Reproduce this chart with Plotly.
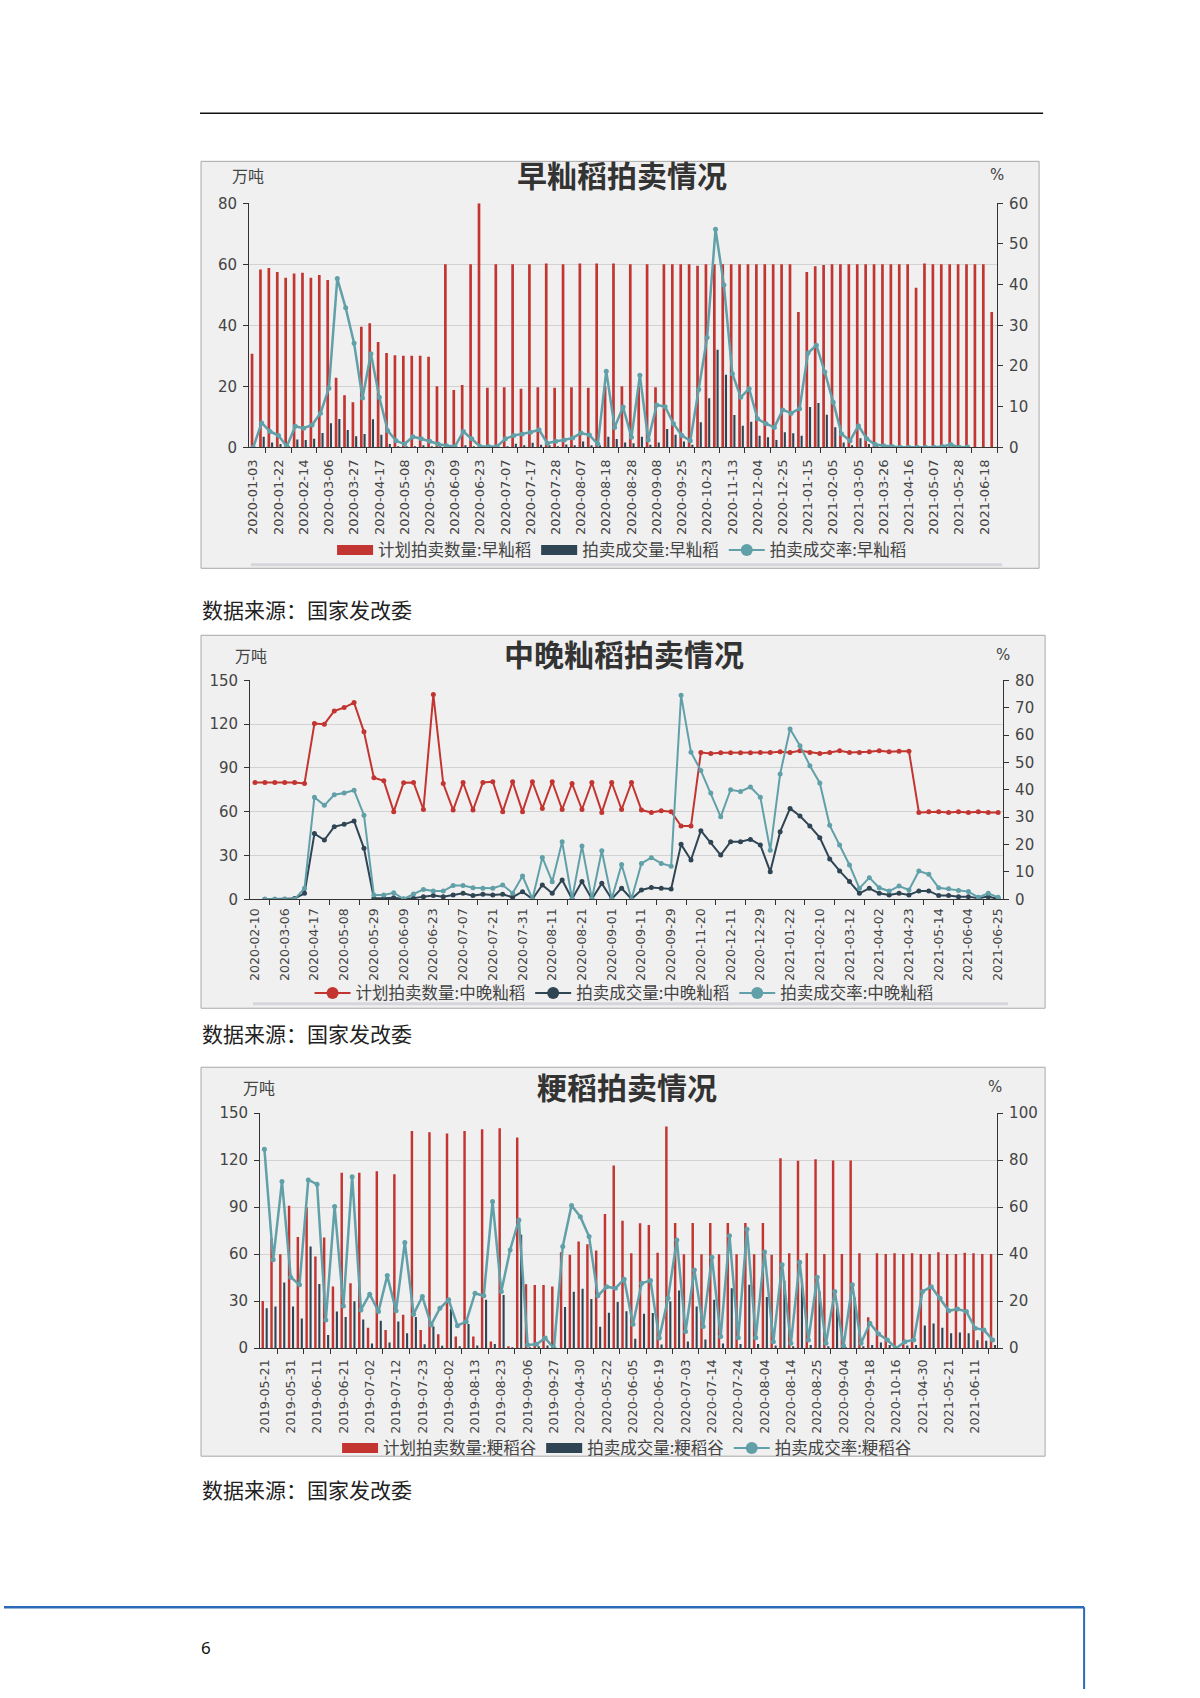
import plotly.graph_objects as go

W, H = 1200, 1698
# measured mapping between figure pixels and the photographed page (small offset + slight shrink)
SX, AX = 0.9949, 4.0
SY, AY = 0.9895, 8.65
FONT = "Noto Sans CJK SC"
NUMFONT = "DejaVu Sans"
RED, DARK, CYAN = "#c23531", "#2f4554", "#61a0a8"

# ---------------- Chart 1: 早籼稻 ----------------
labels1 = ["2020-01-03","2020-01-22","2020-02-14","2020-03-06","2020-03-27","2020-04-17","2020-05-08",
           "2020-05-29","2020-06-09","2020-06-23","2020-07-07","2020-07-17","2020-07-28","2020-08-07",
           "2020-08-18","2020-08-28","2020-09-08","2020-09-25","2020-10-23","2020-11-13","2020-12-04",
           "2020-12-25","2021-01-15","2021-02-05","2021-03-05","2021-03-26","2021-04-16","2021-05-07",
           "2021-05-28","2021-06-18"]
plan1 = [30.7, 58.3, 58.8, 57.5, 55.6, 57.0, 57.2, 55.6, 56.5, 54.9,
         22.8, 17.1, 14.8, 39.5, 40.7, 34.5, 30.9, 30.2, 30.0, 30.0,
         30.0, 29.7, 20.0, 60.0, 18.8, 20.4, 60.0, 80.0, 19.5, 60.0,
         19.7, 60.0, 19.2, 60.0, 19.7, 60.3, 19.5, 60.0, 19.7, 60.3,
         19.5, 60.3, 20.0, 60.3, 20.0, 60.0, 20.0, 60.0, 19.7, 60.0,
         60.0, 60.0, 60.0, 59.5, 60.0, 60.0, 60.0, 60.0, 60.0, 60.0,
         60.0, 60.0, 60.0, 60.0, 60.0, 44.4, 57.5, 59.4, 59.8, 60.0,
         60.0, 60.0, 60.0, 60.0, 60.0, 60.0, 60.0, 60.0, 60.0, 52.3,
         60.3, 60.0, 60.0, 60.0, 60.0, 60.0, 60.0, 60.0, 44.4]
deal1 = [0.0, 3.5, 1.6, 1.1, 0.2, 2.6, 2.4, 2.8, 4.7, 7.9,
         9.3, 5.7, 3.6, 4.4, 9.2, 4.1, 1.1, 0.3, 0.1, 0.2,
         0.4, 0.1, 0.1, 0.1, 0.0, 0.5, 0.1, 0.0, 0.0, 0.0,
         0.3, 1.2, 0.5, 1.5, 0.8, 0.5, 0.3, 0.9, 0.4, 1.9,
         0.5, 0.4, 3.5, 2.7, 1.6, 1.3, 3.5, 0.8, 1.6, 6.0,
         4.1, 1.9, 0.8, 8.2, 16.1, 32.0, 23.8, 10.6, 7.1, 8.4,
         3.8, 3.3, 2.4, 4.9, 4.6, 3.8, 13.2, 14.5, 10.7, 6.6,
         1.6, 0.5, 3.0, 1.1, 0.2, 0.1, 0.0, 0.0, 0.0, 0.0,
         0.0, 0.0, 0.1, 0.3, 0.0, 0.0, 0.0, 0.0, 0.0]
rate1 = [0.0, 6.0, 3.9, 2.9, 0.2, 5.2, 4.7, 5.5, 8.4, 14.5,
         41.5, 34.3, 25.6, 12.1, 23.0, 12.3, 4.1, 1.6, 0.8, 2.6,
         2.1, 1.5, 0.8, 0.4, 0.2, 3.9, 2.1, 0.2, 0.2, 0.2,
         2.1, 2.9, 3.3, 3.7, 4.3, 1.0, 1.5, 1.8, 2.3, 3.5,
         3.0, 0.8, 18.7, 4.9, 9.9, 2.5, 17.7, 1.8, 10.4, 10.0,
         5.8, 2.9, 1.6, 14.2, 27.0, 53.6, 39.9, 18.1, 12.3, 14.4,
         7.0, 5.8, 4.9, 9.2, 8.4, 9.5, 23.2, 25.1, 18.5, 11.1,
         3.3, 1.6, 5.3, 2.1, 0.7, 0.4, 0.2, 0.0, 0.0, 0.0,
         0.0, 0.0, 0.2, 0.7, 0.0, 0.1, None, None, None]

# ---------------- Chart 2: 中晚籼稻 ----------------
labels2 = ["2020-02-10","2020-03-06","2020-04-17","2020-05-08","2020-05-29","2020-06-09","2020-06-23",
           "2020-07-07","2020-07-21","2020-07-31","2020-08-11","2020-08-21","2020-09-01","2020-09-11",
           "2020-09-29","2020-11-20","2020-12-11","2020-12-29","2021-01-22","2021-02-10","2021-03-12",
           "2021-04-02","2021-04-23","2021-05-14","2021-06-04","2021-06-25"]
plan2 = [80, 80, 80, 80, 80, 79.3, 120.4, 119.9, 129, 131.3,
         134.7, 114.7, 83.2, 81.1, 60, 79.8, 80, 61.5, 140.2, 79.3,
         61.1, 80, 61.1, 80, 80.5, 60, 80.5, 60, 80.5, 62.2,
         80.5, 61.5, 79.3, 61.5, 80, 59.5, 80, 61.5, 80, 61.1,
         59.5, 60.6, 60, 50.1, 50.1, 100.5, 99.8, 100.3, 100.3, 100.3,
         100.3, 100.5, 100.5, 101.0, 100.5, 101.7, 100.5, 99.8, 100.5, 101.7,
         100.5, 100.5, 101.0, 101.7, 101.0, 101.4, 101.4, 59.5, 60.0, 60.0,
         59.5, 60.0, 59.5, 60.0, 59.5, 59.5]
deal2 = [None, 0, 0, 0, 0.5, 4.1, 45, 40.6, 49.7, 51.3,
         53.6, 34.9, 0.7, 0.7, 1.1, 0.2, 0.7, 1.8, 2.5, 1.8,
         3.0, 4.1, 2.5, 3.4, 3.0, 3.4, 1.4, 5.2, 0.2, 9.8,
         4.1, 13.2, 0.2, 12.1, 0.2, 10.9, 0.2, 7.5, 0.2, 6.4,
         8.0, 7.5, 7.1, 37.6, 26.9, 47, 39, 30.3, 39.4, 39.4,
         41, 37.2, 18.9, 46.3, 62.2, 57, 50.1, 42.2, 27.6, 19.4,
         12.1, 4.1, 7.5, 4.1, 3.0, 4.1, 3.0, 5.7, 5.7, 2.5,
         2.5, 1.8, 1.8, 0.7, 1.8, 0.2]
rate2 = [None, 0, 0, 0.1, 0, 4.0, 37.3, 34.3, 38.2, 38.8,
         39.8, 30.7, 1.6, 1.6, 2.4, 0.1, 1.9, 3.6, 3.0, 3.0,
         5.0, 5.0, 4.2, 4.0, 4.0, 5.2, 2.2, 8.5, 0.1, 15.3,
         6.4, 21.0, 0.1, 19.5, 0.1, 17.7, 0.1, 12.7, 0.1, 13.1,
         15.2, 13.1, 12.1, 74.5, 53.7, 47.0, 38.8, 30.1, 40.0, 39.4,
         41.0, 37.3, 17.9, 45.8, 62.2, 56.1, 48.8, 42.5, 27.0, 19.8,
         12.5, 4.0, 7.9, 4.2, 3.0, 4.8, 3.4, 10.3, 9.1, 4.2,
         3.8, 3.2, 2.8, 0.7, 2.2, 0.7]

# ---------------- Chart 3: 粳稻 ----------------
labels3 = ["2019-05-21","2019-05-31","2019-06-11","2019-06-21","2019-07-02","2019-07-12","2019-07-23",
           "2019-08-02","2019-08-13","2019-08-23","2019-09-06","2019-09-27","2020-04-30","2020-05-22",
           "2020-06-05","2020-06-19","2020-07-03","2020-07-14","2020-07-24","2020-08-04","2020-08-14",
           "2020-08-25","2020-09-04","2020-09-18","2020-10-16","2021-04-30","2021-05-21","2021-06-11"]
plan3 = [30.2, 70, 60, 91, 71, 90, 58.5, 70.6, 39.4, 112,
         41.5, 112, 13, 113, 11.7, 111, 21.3, 138.7, 11.7, 137.9,
         8.9, 137, 7.4, 138.7, 7.4, 139.8, 4.3, 140.4, 1, 134.5,
         40.9, 40.4, 40.4, 39.4, 61.3, 59.6, 68.1, 66.4, 62.3, 85.7,
         116.6, 81.3, 60.6, 79.8, 78.7, 61, 141.5, 80, 60, 80,
         60, 80, 60, 80, 60, 80, 60, 80, 59.6, 121.3,
         60.6, 119.6, 60.6, 120.6, 60.2, 119.8, 60.2, 119.8, 60.6, 19.8,
         60.6, 60.2, 60.6, 60.2, 60.6, 60.2, 60.2, 61.3, 60.2, 60.2,
         61, 60.6, 60.2, 60.2]
deal3 = [25.5, 26.6, 42, 26.6, 19, 65, 41, 8.5, 23.5, 20,
         30, 18.3, 3, 17.5, 3.6, 17, 9.6, 20, 2.6, 13.8,
         1.5, 25, 0.7, 15.5, 1.7, 31, 2.7, 34, 0.4, 72.5,
         0.6, 0.7, 1.7, 0, 26.3, 36, 38, 31.4, 13.7, 22.6,
         29.5, 23.6, 6.1, 22, 22.5, 2.4, 30, 36.8, 4.3, 26.6,
         5.5, 31, 3, 38.3, 2.7, 40.5, 2.7, 32.7, 1.7, 43,
         1.3, 43.8, 2.1, 36.4, 1.3, 28.9, 0.6, 32.3, 1.3, 2.1,
         3.6, 2.1, 0, 1.7, 2.1, 14.5, 15.7, 13, 9.5, 10,
         9.5, 5.1, 4.7, 2.1]
rate3 = [84.7, 37.6, 70.9, 30.2, 27, 71.6, 69.8, 12, 60.3, 18,
         73, 16.3, 23, 15.6, 30.9, 15.9, 45, 14.5, 22, 9.9,
         17, 20.6, 9.6, 11.3, 23.4, 22.3, 62.4, 24.1, 41.8, 54.6,
         1.4, 1.7, 4.3, 0, 43.3, 60.7, 56, 47.5, 22.3, 26.2,
         25.5, 29.4, 10.2, 27.7, 28.8, 4.3, 21.3, 46.1, 7.1, 33.3,
         9.2, 38.7, 5, 47.9, 4.5, 50.6, 4.5, 40.9, 2.8, 35.5,
         2.1, 36.6, 3.5, 30.2, 2.1, 24.1, 1.0, 27, 2.1, 10.6,
         6, 3.5, 0, 2.8, 3.5, 24.1, 26.2, 21.3, 15.9, 16.7,
         15.6, 8.5, 7.8, 3.5]


def fx(v):
    """target page pixel x -> paper fraction"""
    return max(0.0, ((v - AX) / SX) / W)


def fy(v):
    """target page pixel y (from top) -> paper fraction"""
    return min(1.0, max(0.0, 1 - ((v - AY) / SY) / H))


fig = go.Figure()


def legend_bar(name, color, leg):
    # legend swatch only (wide block like the original legend icon)
    fig.add_trace(go.Scatter(x=[None], y=[None], mode="lines", name=name,
                             line=dict(color=color, width=14), legend=leg, hoverinfo="skip"))


def legend_line(name, color, leg):
    fig.add_trace(go.Scatter(x=[None], y=[None], mode="lines+markers", name=name,
                             line=dict(color=color, width=2), marker=dict(size=12, color=color),
                             legend=leg, hoverinfo="skip"))


# legend entries
legend_bar("计划拍卖数量:早籼稻", RED, "legend")
legend_bar("拍卖成交量:早籼稻", DARK, "legend")
legend_line("拍卖成交率:早籼稻", CYAN, "legend")
legend_line("计划拍卖数量:中晚籼稻", RED, "legend2")
legend_line("拍卖成交量:中晚籼稻", DARK, "legend2")
legend_line("拍卖成交率:中晚籼稻", CYAN, "legend2")
legend_bar("计划拍卖数量:粳稻谷", RED, "legend3")
legend_bar("拍卖成交量:粳稻谷", DARK, "legend3")
legend_line("拍卖成交率:粳稻谷", CYAN, "legend3")

# chart 1 traces
x1 = list(range(len(plan1)))
fig.add_trace(go.Bar(x=x1, y=plan1, name="计划拍卖数量:早籼稻", marker_color=RED, marker_line_width=0,
                     width=0.32, offset=-0.3, xaxis="x", yaxis="y", showlegend=False))
fig.add_trace(go.Bar(x=x1, y=deal1, name="拍卖成交量:早籼稻", marker_color=DARK, marker_line_width=0,
                     width=0.25, offset=0.12, xaxis="x", yaxis="y", showlegend=False))
fig.add_trace(go.Scatter(x=x1, y=rate1, name="拍卖成交率:早籼稻", mode="lines+markers",
                         line=dict(color=CYAN, width=2.5), marker=dict(size=5, color=CYAN),
                         xaxis="x", yaxis="y2", showlegend=False))

# chart 2 traces
x2 = list(range(len(plan2)))
fig.add_trace(go.Scatter(x=x2, y=plan2, name="计划拍卖数量:中晚籼稻", mode="lines+markers",
                         line=dict(color=RED, width=2), marker=dict(size=5, color=RED),
                         xaxis="x2", yaxis="y3", showlegend=False))
fig.add_trace(go.Scatter(x=x2, y=deal2, name="拍卖成交量:中晚籼稻", mode="lines+markers",
                         line=dict(color=DARK, width=2), marker=dict(size=5, color=DARK),
                         xaxis="x2", yaxis="y3", showlegend=False))
fig.add_trace(go.Scatter(x=x2, y=rate2, name="拍卖成交率:中晚籼稻", mode="lines+markers",
                         line=dict(color=CYAN, width=2), marker=dict(size=5, color=CYAN),
                         xaxis="x2", yaxis="y4", showlegend=False))

# chart 3 traces
x3 = list(range(len(plan3)))
fig.add_trace(go.Bar(x=x3, y=plan3, name="计划拍卖数量:粳稻谷", marker_color=RED, marker_line_width=0,
                     width=0.28, offset=-0.33, xaxis="x3", yaxis="y5", showlegend=False))
fig.add_trace(go.Bar(x=x3, y=deal3, name="拍卖成交量:粳稻谷", marker_color=DARK, marker_line_width=0,
                     width=0.24, offset=0.14, xaxis="x3", yaxis="y5", showlegend=False))
fig.add_trace(go.Scatter(x=x3, y=rate3, name="拍卖成交率:粳稻谷", mode="lines+markers",
                         line=dict(color=CYAN, width=2.5), marker=dict(size=5, color=CYAN),
                         xaxis="x3", yaxis="y6", showlegend=False))

TICKC = "#444"
AXC = "#333"


def xaxis_cfg(left, right, anchor, n, labels, fsize=13, standoff=6):
    return dict(domain=[fx(left), fx(right)], anchor=anchor, range=[-0.5, n - 0.5],
                tickmode="array", tickvals=list(range(0, 3 * len(labels), 3)), ticktext=labels,
                tickangle=-90, ticks="", showline=True, linecolor=AXC, linewidth=1,
                showgrid=False, zeroline=False, ticklabelstandoff=standoff,
                tickfont=dict(family=NUMFONT, size=fsize, color=TICKC),
                minor=dict(tickmode="array", tickvals=[1.5 + 3 * k for k in range(len(labels))],
                           ticks="outside", ticklen=5, tickcolor=AXC, showgrid=False))


def yaxis_cfg(top, bottom, anchor, rng, dtick, grid=True):
    return dict(domain=[fy(bottom), fy(top)], anchor=anchor, range=rng, dtick=dtick,
                showline=True, linecolor=AXC, linewidth=1, ticks="outside", ticklen=5, tickcolor=AXC,
                showgrid=grid, gridcolor="#d2d2d2", gridwidth=1, zeroline=False,
                ticklabelstandoff=3, tickfont=dict(family=NUMFONT, size=15, color=TICKC))


def yaxis_right(over, anchor, rng, dtick):
    return dict(overlaying=over, side="right", anchor=anchor, range=rng, dtick=dtick,
                showline=True, linecolor=AXC, linewidth=1, ticks="outside", ticklen=5, tickcolor=AXC,
                showgrid=False, zeroline=False, ticklabelstandoff=3,
                tickfont=dict(family=NUMFONT, size=15, color=TICKC))


# geometry (target page pixels)
C1 = dict(l=249, r=997, t=203, b=447)
C2 = dict(l=250, r=1003, t=680, b=899)
C3 = dict(l=260, r=997, t=1113, b=1348)

layout = dict(
    width=W, height=H, autosize=False, margin=dict(l=0, r=0, t=0, b=0),
    paper_bgcolor="white", plot_bgcolor="rgba(0,0,0,0)",
    barmode="overlay", font=dict(family=FONT, color="#333"),
    xaxis=xaxis_cfg(C1["l"], C1["r"], "y", len(plan1), labels1, 13, 6),
    yaxis=yaxis_cfg(C1["t"], C1["b"], "x", [0, 80], 20),
    yaxis2=yaxis_right("y", "x", [0, 60], 10),
    xaxis2=xaxis_cfg(C2["l"], C2["r"], "y3", len(plan2), labels2, 12.5, 3),
    yaxis3=yaxis_cfg(C2["t"], C2["b"], "x2", [0, 150], 30),
    yaxis4=yaxis_right("y3", "x2", [0, 80], 10),
    xaxis3=xaxis_cfg(C3["l"], C3["r"], "y5", len(plan3), labels3, 12.8, 5),
    yaxis5=yaxis_cfg(C3["t"], C3["b"], "x3", [0, 150], 30),
    yaxis6=yaxis_right("y5", "x3", [0, 100], 20),
)

leg_common = dict(orientation="h", xanchor="center", yanchor="middle", bgcolor="rgba(0,0,0,0)",
                  font=dict(family=FONT, size=16.5, color="#444"), itemwidth=36, tracegroupgap=0,
                  traceorder="normal")
layout["legend"] = dict(x=fx(622), y=fy(550), **leg_common)
layout["legend2"] = dict(x=fx(624), y=fy(993), **leg_common)
layout["legend3"] = dict(x=fx(627), y=fy(1448), **leg_common)

fig.update_layout(**layout)

# shapes: page decoration and chart boxes
shapes = []
BOXFILL = "#f0f0f0"
BOXLINE = "#a8a8a8"
for (bx0, by0, bx1, by1) in [(201, 161, 1039, 568), (201, 635, 1045, 1008), (201, 1067, 1045, 1456)]:
    shapes.append(dict(type="rect", xref="paper", yref="paper", x0=fx(bx0), x1=fx(bx1), y0=fy(by1), y1=fy(by0),
                       fillcolor=BOXFILL, line=dict(color=BOXLINE, width=1), layer="below"))
# datazoom remnants
shapes.append(dict(type="rect", xref="paper", yref="paper", x0=fx(251), x1=fx(1002), y0=fy(566), y1=fy(563),
                   fillcolor="#d6d6dc", line=dict(width=0), layer="below"))
shapes.append(dict(type="rect", xref="paper", yref="paper", x0=fx(253), x1=fx(1008), y0=fy(1005), y1=fy(1002),
                   fillcolor="#d6d6dc", line=dict(width=0), layer="below"))
# header rule
shapes.append(dict(type="line", xref="paper", yref="paper", x0=fx(200), x1=fx(1043), y0=fy(113), y1=fy(113),
                   line=dict(color="#111", width=1.5)))
# footer frame
shapes.append(dict(type="line", xref="paper", yref="paper", x0=fx(0), x1=fx(1084), y0=fy(1607), y1=fy(1607),
                   line=dict(color="#2a6ab8", width=2.5)))
shapes.append(dict(type="line", xref="paper", yref="paper", x0=fx(1084), x1=fx(1084), y0=fy(1607), y1=fy(1698),
                   line=dict(color="#2a6ab8", width=2)))

annotations = []


def txt(x, y, s, size, color="#333", xanchor="center", bold=False, family=FONT):
    annotations.append(dict(xref="paper", yref="paper", x=fx(x), y=fy(y), text=("<b>%s</b>" % s) if bold else s,
                            showarrow=False, xanchor=xanchor, yanchor="middle",
                            font=dict(family=family, size=size, color=color)))


# titles
txt(622, 174, "早籼稻拍卖情况", 30, "#333", bold=True)
txt(624, 653, "中晚籼稻拍卖情况", 30, "#333", bold=True)
txt(627, 1086, "粳稻拍卖情况", 30, "#333", bold=True)
# axis names
txt(248, 175, "万吨", 16, "#444")
txt(997, 175, "%", 15, "#444", family=NUMFONT)
txt(251, 655, "万吨", 16, "#444")
txt(1003, 655, "%", 15, "#444", family=NUMFONT)
txt(259, 1087, "万吨", 16, "#444")
txt(995, 1087, "%", 15, "#444", family=NUMFONT)
# sources
txt(200, 609, "数据来源：国家发改委", 21, "#222", xanchor="left")
txt(200, 1033, "数据来源：国家发改委", 21, "#222", xanchor="left")
txt(200, 1489, "数据来源：国家发改委", 21, "#222", xanchor="left")
# page number
txt(206, 1647, "6", 17, "#111", family="Noto Sans")

fig.update_layout(shapes=shapes, annotations=annotations)

fig.write_html("out.html")
